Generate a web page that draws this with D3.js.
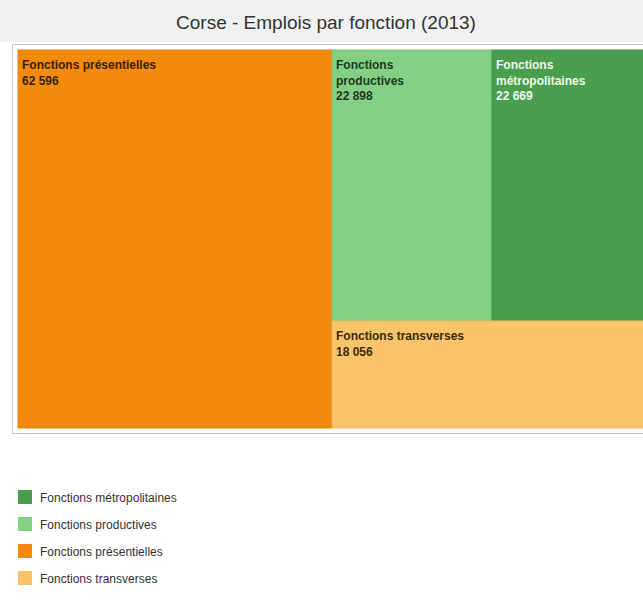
<!DOCTYPE html>
<html>
<head>
<meta charset="utf-8">
<script src="https://cdn.jsdelivr.net/npm/d3@7"></script>
<style>
  body { margin: 0; background: #fff; }
  svg { display: block; font-family: "Liberation Sans", Arial, sans-serif; }
</style>
</head>
<body>
<div id="chart"></div>
<script>
// data
const categories = ["Fonctions présentielles", "Fonctions productives", "Fonctions métropolitaines", "Fonctions transverses"];
const values = [62596, 22898, 22669, 18056];
const colors = ["#f28a0d", "#83cf83", "#4a9f4e", "#fbc46b"];
const labelColors = ["#3a2200", "#1f3a1f", "#eef7ee", "#3a2a10"];
const legendOrder = ["Fonctions métropolitaines", "Fonctions productives", "Fonctions présentielles", "Fonctions transverses"];

const W = 643, H = 610;
const svg = d3.select("#chart").append("svg").attr("width", W).attr("height", H);

// title band
svg.append("rect").attr("x", 0).attr("y", 0).attr("width", W).attr("height", 42).attr("fill", "#f1f1f1");
svg.append("text")
    .attr("x", 326).attr("y", 29)
    .attr("text-anchor", "middle")
    .attr("font-size", 19)
    .attr("fill", "#333")
    .text("Corse - Emplois par fonction (2013)");

// panel border
svg.append("rect")
    .attr("x", 12.5).attr("y", 44.5).attr("width", 660).attr("height", 389)
    .attr("fill", "#fff").attr("stroke", "#c8c8d0");

// treemap
const root = d3.hierarchy({children: categories.map((c, i) => ({name: c, value: values[i], idx: i}))})
    .sum(d => d.value || 0)
    .sort((a, b) => b.value - a.value);

d3.treemap()
    .tile(d3.treemapSquarify)
    .size([633, 378])
    .paddingInner(0)
    .round(true)(root);

const g = svg.append("g").attr("transform", "translate(18,50)");

const cell = g.selectAll("g.cell").data(root.leaves()).join("g")
    .attr("class", "cell")
    .attr("transform", d => `translate(${d.x0},${d.y0})`);

cell.append("rect")
    .attr("width", d => d.x1 - d.x0)
    .attr("height", d => d.y1 - d.y0)
    .attr("fill", d => colors[d.data.idx])
    .attr("stroke", d => d3.color(colors[d.data.idx]).darker(0.15))
    .attr("stroke-width", 1);

const fmt = v => d3.format(",")(v).replace(/,/g, " ");

// measure and wrap labels
const measure = svg.append("text").attr("font-size", 12).attr("font-weight", "bold").attr("visibility", "hidden");
function lines(name, width) {
    measure.text(name);
    if (measure.node().getComputedTextLength() <= width - 40) return [name];
    return name.split(" ");
}

cell.each(function(d) {
    const w = d.x1 - d.x0;
    const ls = lines(d.data.name, w).concat([fmt(d.data.value)]);
    const t = d3.select(this).append("text")
        .attr("font-size", 12)
        .attr("font-weight", "bold")
        .attr("fill", labelColors[d.data.idx]);
    ls.forEach((l, i) => {
        t.append("tspan").attr("x", 4).attr("y", 19 + i * 15.5).text(l);
    });
});
measure.remove();

// legend
const legend = svg.append("g").attr("transform", "translate(18,490)");
const item = legend.selectAll("g").data(legendOrder).join("g")
    .attr("transform", (d, i) => `translate(0,${i * 27})`);
item.append("rect")
    .attr("width", 14).attr("height", 14)
    .attr("fill", d => colors[categories.indexOf(d)]);
item.append("text")
    .attr("x", 22).attr("y", 11.5)
    .attr("font-size", 12)
    .attr("fill", "#333")
    .text(d => d);
</script>
</body>
</html>
